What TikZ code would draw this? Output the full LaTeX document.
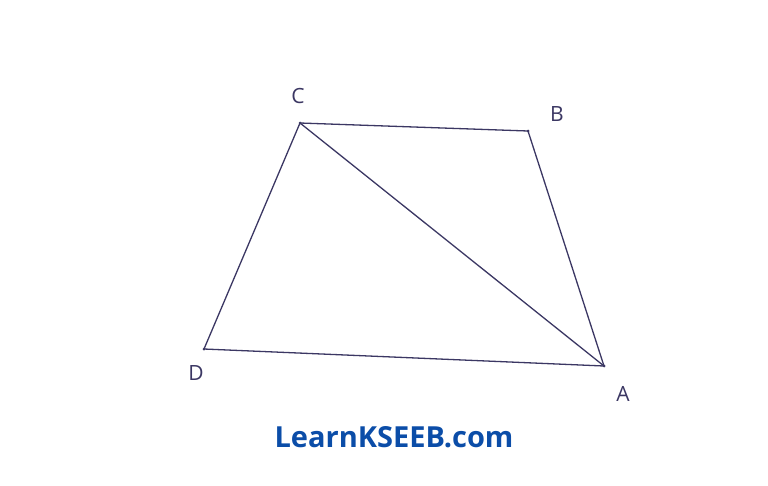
\documentclass[tikz,border=0pt]{standalone}
\usepackage{fontspec}
\setmainfont{Open Sans}
\usetikzlibrary{positioning}
\definecolor{penink}{HTML}{3B3763}
\definecolor{markblue}{HTML}{0B4DA8}

\begin{document}
\begin{tikzpicture}
[x=1pt,y=-1pt,
 vertex/.style={shape=circle,fill=penink,inner sep=0pt,minimum size=3pt},
 side/.style={draw=penink,line width=1.3pt},
 lbl/.style={text=penink,font=\fontsize{21}{21}\selectfont},
 sitemark/.style={text=markblue,font=\fontsize{29}{29}\selectfont\bfseries}]

\useasboundingbox (0,0) rectangle (768,485);

\node (C) [vertex] at (300,123) {};
\node (B) [vertex] at (528,131) {};
\node (A) [vertex] at (604,366) {};
\node (D) [vertex] at (204,349) {};

\draw [side] (C.center) -- (B.center) -- (A.center) -- (D.center) -- cycle;
\draw [side] (C.center) -- (A.center);

\node (lC) [lbl] at (298,96) {C};
\node (lB) [lbl] at (557,114) {B};
\node (lA) [lbl] at (623,394) {A};
\node (lD) [lbl] at (196,373) {D};

\node (site) [sitemark] at (394,437) {LearnKSEEB.com};
\end{tikzpicture}
\end{document}
